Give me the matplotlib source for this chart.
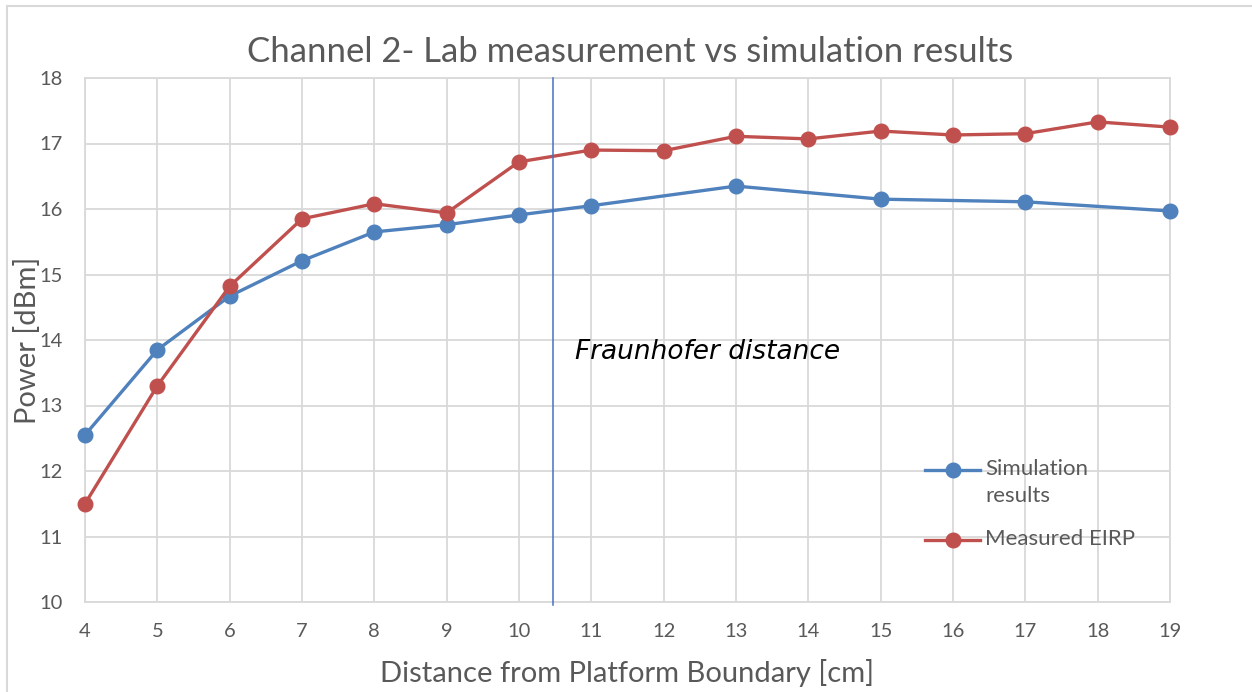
import matplotlib.pyplot as plt
from matplotlib.patches import Rectangle
from matplotlib.lines import Line2D

# data
sim_x = [4, 5, 6, 7, 8, 9, 10, 11, 13, 15, 17, 19]
sim_y = [12.55, 13.85, 14.67, 15.21, 15.65, 15.76, 15.91, 16.05, 16.35, 16.15, 16.11, 15.97]

meas_x = [4, 5, 6, 7, 8, 9, 10, 11, 12, 13, 14, 15, 16, 17, 18, 19]
meas_y = [11.5, 13.3, 14.82, 15.85, 16.08, 15.94, 16.72, 16.90, 16.89, 17.11, 17.07,
          17.19, 17.13, 17.15, 17.33, 17.25]

fraunhofer_x = 10.47

plt.rcParams['font.family'] = ['Lato', 'DejaVu Sans']
grey = '#595959'
gridc = '#d9d9d9'
blue = '#4f81bd'
red = '#c0504d'

W, H = 1252, 692
fig = plt.figure(figsize=(W / 100, H / 100), dpi=100)

# outer chart border (runs off the right and bottom edges like the original)
fig.patches.append(Rectangle((7 / W, -10 / H), 1260 / W, 696 / H, transform=fig.transFigure,
                             fill=False, edgecolor=gridc, linewidth=1.5))

ax = fig.add_axes([85 / W, 90 / H, 1085 / W, 524 / H])

ax.plot(sim_x, sim_y, color=blue, lw=2.4, marker='o', ms=10.5, zorder=3, clip_on=False)
ax.plot(meas_x, meas_y, color=red, lw=2.4, marker='o', ms=10.5, zorder=3, clip_on=False)

ax.plot([fraunhofer_x, fraunhofer_x], [9.95, 18], color='#4472c4', lw=1.1, zorder=4, clip_on=False)
ax.text(10.78, 13.82, 'Fraunhofer distance', fontsize=19, style='italic', color='black',
        family='DejaVu Sans', va='center', ha='left')

ax.set_xlim(4, 19)
ax.set_ylim(10, 18)
ax.set_xticks(range(4, 20))
ax.set_yticks(range(10, 19))
ax.grid(True, color=gridc, lw=1.3)
ax.set_axisbelow(True)
for s in ax.spines.values():
    s.set_color(gridc)
    s.set_linewidth(1.3)
ax.tick_params(length=0, labelsize=14.5, colors=grey)
ax.tick_params(axis='x', pad=15)
ax.tick_params(axis='y', pad=16)

fig.text(630 / W, 1 - 62 / H, 'Channel 2- Lab measurement vs simulation results', fontsize=25,
         color=grey, ha='center', va='baseline')
fig.text(627 / W, 1 - 682 / H, 'Distance from Platform Boundary [cm]', fontsize=21,
         color=grey, ha='center', va='baseline')
fig.text(28 / W, 1 - 340 / H, 'Power [dBm]', fontsize=21, color=grey, rotation=90,
         ha='center', va='center')

# legend drawn by hand so the marker sits on the first text line, as in the original
legend_items = [('Simulation\nresults', blue, 470), ('Measured EIRP', red, 540)]
for label, col, yp in legend_items:
    yf = 1 - yp / H
    fig.add_artist(Line2D([925 / W, 952.5 / W, 980 / W], [yf, yf, yf], color=col, lw=2.4,
                          marker='o', ms=10.5, markevery=[1], transform=fig.transFigure))
    fig.text(985 / W, yf + 11 / H, label, fontsize=16, color=grey, ha='left', va='top',
             linespacing=1.45)

fig.savefig('out.png', dpi=100)
